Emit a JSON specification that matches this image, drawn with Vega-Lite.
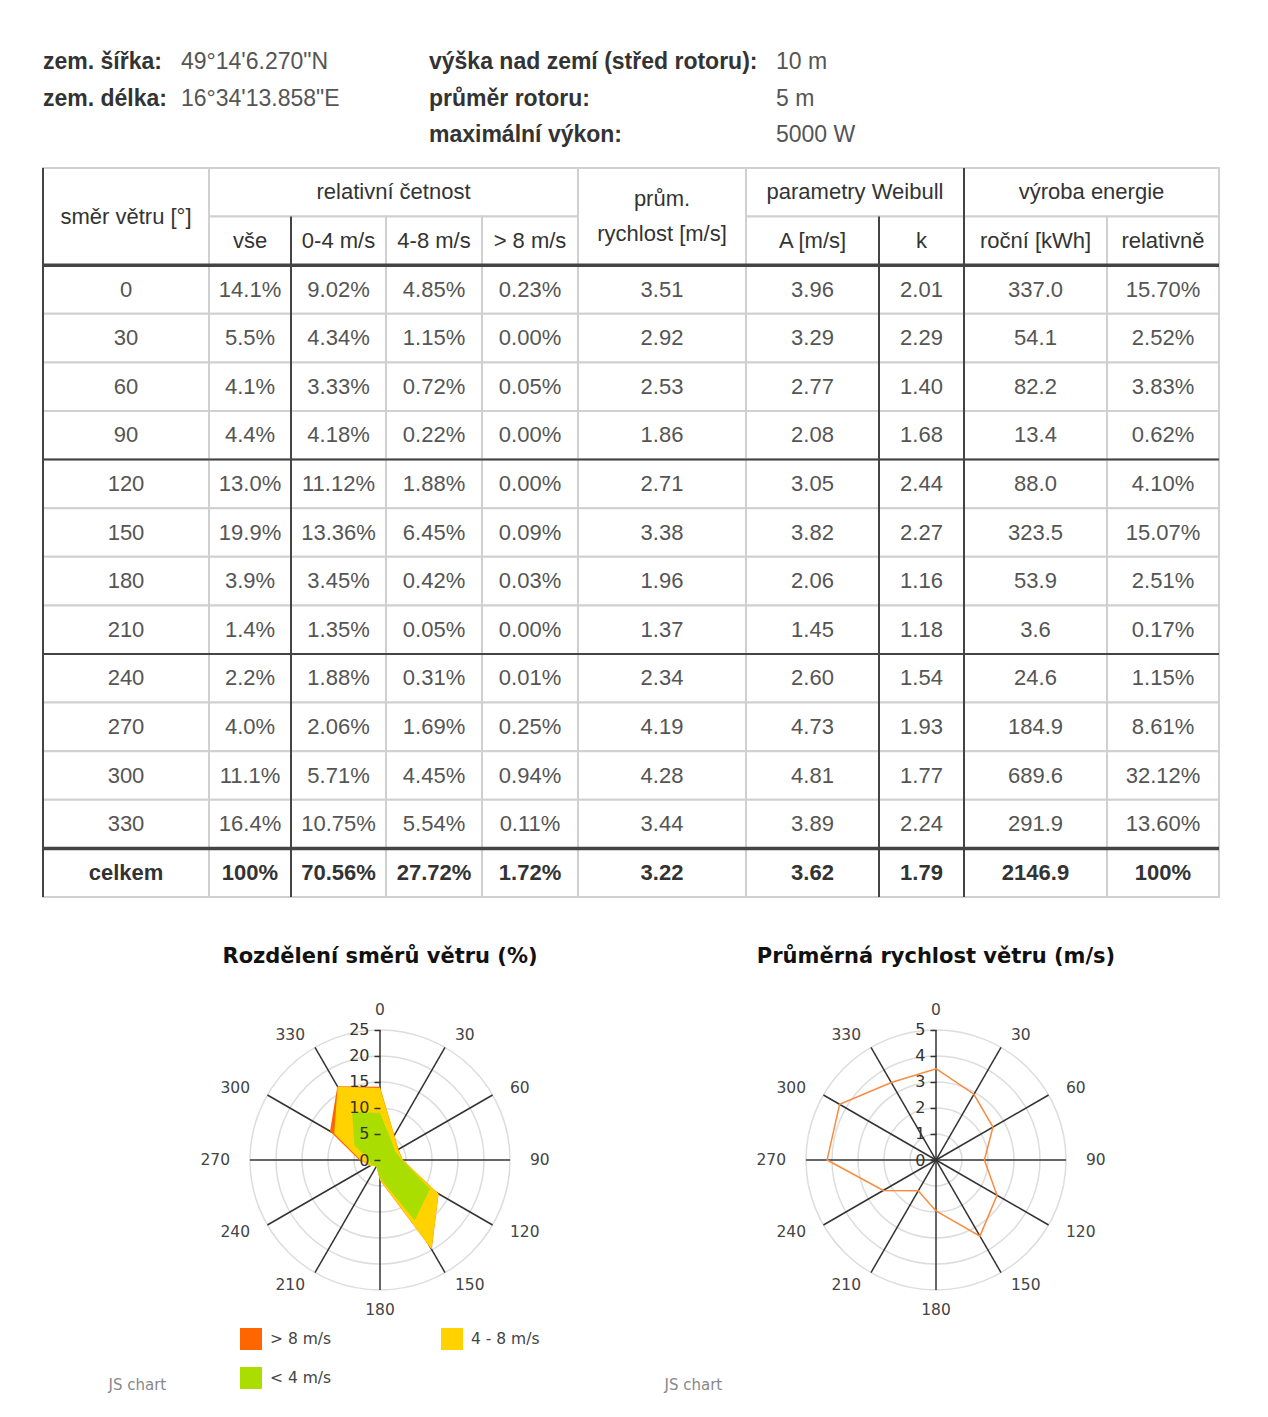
{
"$schema": "https://vega.github.io/schema/vega-lite/v6.json",
"background": "white",
"padding": {"left": 41, "top": 40, "right": 5, "bottom": 5},
"config": {"view": {"stroke": null}, "font": "Liberation Sans"},
"datasets": {
"info": [
{"row":0,"col":0,"kind":"l","t":"zem. šířka:"},
{"row":0,"col":1,"kind":"v","t":"49°14'6.270\"N"},
{"row":1,"col":0,"kind":"l","t":"zem. délka:"},
{"row":1,"col":1,"kind":"v","t":"16°34'13.858\"E"},
{"row":0,"col":2,"kind":"l","t":"výška nad zemí (střed rotoru):"},
{"row":0,"col":3,"kind":"v","t":"10 m"},
{"row":1,"col":2,"kind":"l","t":"průměr rotoru:"},
{"row":1,"col":3,"kind":"v","t":"5 m"},
{"row":2,"col":2,"kind":"l","t":"maximální výkon:"},
{"row":2,"col":3,"kind":"v","t":"5000 W"}
],
"rows": [
{"r":2,"dir":"0","vse":"14.1%","s04":"9.02%","s48":"4.85%","s8":"0.23%","avg":"3.51","wa":"3.96","wk":"2.01","roc":"337.0","rel":"15.70%"},
{"r":3,"dir":"30","vse":"5.5%","s04":"4.34%","s48":"1.15%","s8":"0.00%","avg":"2.92","wa":"3.29","wk":"2.29","roc":"54.1","rel":"2.52%"},
{"r":4,"dir":"60","vse":"4.1%","s04":"3.33%","s48":"0.72%","s8":"0.05%","avg":"2.53","wa":"2.77","wk":"1.40","roc":"82.2","rel":"3.83%"},
{"r":5,"dir":"90","vse":"4.4%","s04":"4.18%","s48":"0.22%","s8":"0.00%","avg":"1.86","wa":"2.08","wk":"1.68","roc":"13.4","rel":"0.62%"},
{"r":6,"dir":"120","vse":"13.0%","s04":"11.12%","s48":"1.88%","s8":"0.00%","avg":"2.71","wa":"3.05","wk":"2.44","roc":"88.0","rel":"4.10%"},
{"r":7,"dir":"150","vse":"19.9%","s04":"13.36%","s48":"6.45%","s8":"0.09%","avg":"3.38","wa":"3.82","wk":"2.27","roc":"323.5","rel":"15.07%"},
{"r":8,"dir":"180","vse":"3.9%","s04":"3.45%","s48":"0.42%","s8":"0.03%","avg":"1.96","wa":"2.06","wk":"1.16","roc":"53.9","rel":"2.51%"},
{"r":9,"dir":"210","vse":"1.4%","s04":"1.35%","s48":"0.05%","s8":"0.00%","avg":"1.37","wa":"1.45","wk":"1.18","roc":"3.6","rel":"0.17%"},
{"r":10,"dir":"240","vse":"2.2%","s04":"1.88%","s48":"0.31%","s8":"0.01%","avg":"2.34","wa":"2.60","wk":"1.54","roc":"24.6","rel":"1.15%"},
{"r":11,"dir":"270","vse":"4.0%","s04":"2.06%","s48":"1.69%","s8":"0.25%","avg":"4.19","wa":"4.73","wk":"1.93","roc":"184.9","rel":"8.61%"},
{"r":12,"dir":"300","vse":"11.1%","s04":"5.71%","s48":"4.45%","s8":"0.94%","avg":"4.28","wa":"4.81","wk":"1.77","roc":"689.6","rel":"32.12%"},
{"r":13,"dir":"330","vse":"16.4%","s04":"10.75%","s48":"5.54%","s8":"0.11%","avg":"3.44","wa":"3.89","wk":"2.24","roc":"291.9","rel":"13.60%"},
{"r":14,"dir":"celkem","vse":"100%","s04":"70.56%","s48":"27.72%","s8":"1.72%","avg":"3.22","wa":"3.62","wk":"1.79","roc":"2146.9","rel":"100%"}
],
"heads": [
{"gi":0,"c0":0,"c1":1,"r0":0,"r1":2,"t":"směr větru [°]"},
{"gi":1,"c0":1,"c1":5,"r0":0,"r1":1,"t":"relativní četnost"},
{"gi":1,"c0":1,"c1":2,"r0":1,"r1":2,"t":"vše"},
{"gi":1,"c0":2,"c1":3,"r0":1,"r1":2,"t":"0-4 m/s"},
{"gi":1,"c0":3,"c1":4,"r0":1,"r1":2,"t":"4-8 m/s"},
{"gi":1,"c0":4,"c1":5,"r0":1,"r1":2,"t":"> 8 m/s"},
{"gi":2,"c0":5,"c1":6,"r0":0,"r1":2,"t":"prům.\nrychlost [m/s]"},
{"gi":3,"c0":6,"c1":8,"r0":0,"r1":1,"t":"parametry Weibull"},
{"gi":3,"c0":6,"c1":7,"r0":1,"r1":2,"t":"A [m/s]"},
{"gi":3,"c0":7,"c1":8,"r0":1,"r1":2,"t":"k"},
{"gi":4,"c0":8,"c1":10,"r0":0,"r1":1,"t":"výroba energie"},
{"gi":4,"c0":8,"c1":9,"r0":1,"r1":2,"t":"roční [kWh]"},
{"gi":4,"c0":9,"c1":10,"r0":1,"r1":2,"t":"relativně"}
],
"vlines": [
{"c":0,"r0":0},
{"c":2,"r0":1},
{"c":7,"r0":1},
{"c":8,"r0":0}
],
"hlines": [
{"b":2,"sep":"double"},
{"b":6,"sep":"single"},
{"b":10,"sep":"single"},
{"b":14,"sep":"double"}
],
"rings1": [{"v":5},{"v":10},{"v":15},{"v":20},{"v":25}],
"rings2": [{"v":1},{"v":2},{"v":3},{"v":4},{"v":5}]
},
"bounds": "flush",
"spacing": 103,
"vconcat": [
{"width": 1176, "height": 25,
 "layer": [
 {"data": {"name": "info"}, "transform": [{"filter": "datum.kind==='l'"}],
  "mark": {"type": "text", "align": "left", "fontSize": 23, "fontWeight": "bold", "color": "#333"},
  "encoding": {"x": {"field": "col", "type": "quantitative", "axis": null, "scale": {"domain": [0,1,2,3], "range": [0,138,386,733], "nice": false, "zero": false}},
   "y": {"field": "row", "type": "quantitative", "axis": null, "scale": {"domain": [0,2], "range": [22,95], "nice": false, "zero": false}},
   "text": {"field": "t"}}},
 {"data": {"name": "info"}, "transform": [{"filter": "datum.kind==='v'"}],
  "mark": {"type": "text", "align": "left", "fontSize": 23, "color": "#555"},
  "encoding": {"x": {"field": "col", "type": "quantitative", "axis": null},
   "y": {"field": "row", "type": "quantitative", "axis": null},
   "text": {"field": "t"}}}
 ]},
{"width": 1176, "height": 729,
 "resolve": {"scale": {"x": "independent"}},
 "layer": [
 {"layer": [
  {"data": {"name": "heads"}, "mark": {"type": "rect", "fill": "#ffffff", "stroke": "#d0d0d0", "strokeWidth": 2},
   "encoding": {"x": {"field": "c0", "type": "quantitative", "axis": null, "scale": {"domain": [0,1,2,3,4,5,6,7,8,9,10], "range": [0,166,248,343,439,535,703,836,921,1064,1176], "nice": false, "zero": false}}, "x2": {"field": "c1"},
    "y": {"field": "r0", "type": "quantitative", "axis": null, "scale": {"domain": [0,15], "range": [0,729], "nice": false, "zero": false}}, "y2": {"field": "r1"}}},
  {"data": {"name": "rows"}, "transform": [{"fold": ["dir","vse","s04","s48","s8","avg","wa","wk","roc","rel"]}, {"calculate": "indexof(['dir','vse','s04','s48','s8','avg','wa','wk','roc','rel'],datum.key)", "as": "c0"}, {"calculate": "datum.c0+1", "as": "c1"}, {"calculate": "datum.r+1", "as": "r1"}],
   "mark": {"type": "rect", "fill": "#ffffff", "stroke": "#d0d0d0", "strokeWidth": 2},
   "encoding": {"x": {"field": "c0", "type": "quantitative", "axis": null}, "x2": {"field": "c1"}, "y": {"field": "r", "type": "quantitative", "axis": null}, "y2": {"field": "r1"}}},
  {"data": {"name": "hlines"}, "mark": {"type": "rule", "stroke": "#444"},
   "encoding": {"y": {"field": "b", "type": "quantitative", "axis": null}, "strokeWidth": {"field": "sep", "type": "nominal", "scale": {"domain": ["double","single"], "range": [3.5,2]}, "legend": null}}},
  {"data": {"name": "vlines"}, "mark": {"type": "rule", "stroke": "#444", "strokeWidth": 2},
   "encoding": {"x": {"field": "c", "type": "quantitative", "axis": null}, "y": {"field": "r0", "type": "quantitative", "axis": null}, "y2": {"datum": 15}}},
  {"data": {"name": "heads"}, "transform": [{"filter": "datum.c1-datum.c0==1 && indexof(datum.t,'\\n')<0"}, {"calculate": "(datum.c0+datum.c1)/2", "as": "xm"}, {"calculate": "(datum.r0+datum.r1)/2", "as": "ym"}],
   "mark": {"type": "text", "fontSize": 22, "color": "#333"},
   "encoding": {"x": {"field": "xm", "type": "quantitative", "axis": null}, "y": {"field": "ym", "type": "quantitative", "axis": null}, "text": {"field": "t"}}},
  {"data": {"name": "heads"}, "transform": [{"filter": "indexof(datum.t,'\\n')>=0"}, {"calculate": "(datum.c0+datum.c1)/2", "as": "xm"}, {"calculate": "(datum.r0+datum.r1)/2", "as": "ym"}],
   "mark": {"type": "text", "fontSize": 22, "color": "#333", "lineBreak": "\n", "lineHeight": 35, "dy": -17.5},
   "encoding": {"x": {"field": "xm", "type": "quantitative", "axis": null}, "y": {"field": "ym", "type": "quantitative", "axis": null}, "text": {"field": "t"}}},
  {"data": {"name": "rows"}, "transform": [{"filter": "datum.r<14"}, {"fold": ["dir","vse","s04","s48","s8","avg","wa","wk","roc","rel"]}, {"calculate": "indexof(['dir','vse','s04','s48','s8','avg','wa','wk','roc','rel'],datum.key)+0.5", "as": "xm"}, {"calculate": "datum.r+0.5", "as": "ym"}],
   "mark": {"type": "text", "fontSize": 22, "color": "#555"},
   "encoding": {"x": {"field": "xm", "type": "quantitative", "axis": null}, "y": {"field": "ym", "type": "quantitative", "axis": null}, "text": {"field": "value"}}},
  {"data": {"name": "rows"}, "transform": [{"filter": "datum.r==14"}, {"fold": ["dir","vse","s04","s48","s8","avg","wa","wk","roc","rel"]}, {"calculate": "indexof(['dir','vse','s04','s48','s8','avg','wa','wk','roc','rel'],datum.key)+0.5", "as": "xm"}, {"calculate": "datum.r+0.5", "as": "ym"}],
   "mark": {"type": "text", "fontSize": 22, "fontWeight": "bold", "color": "#333"},
   "encoding": {"x": {"field": "xm", "type": "quantitative", "axis": null}, "y": {"field": "ym", "type": "quantitative", "axis": null}, "text": {"field": "value"}}}
 ]},
 {"data": {"name": "heads"}, "transform": [{"filter": "datum.c1-datum.c0>1"}, {"calculate": "datum.gi+0.5", "as": "gx"}, {"calculate": "(datum.r0+datum.r1)/2", "as": "ym"}],
  "mark": {"type": "text", "fontSize": 22, "color": "#333"},
  "encoding": {"x": {"field": "gx", "type": "quantitative", "axis": null, "scale": {"domain": [0,1,2,3,4,5], "range": [0,166,535,703,921,1176], "nice": false, "zero": false}},
   "y": {"field": "ym", "type": "quantitative", "axis": null}, "text": {"field": "t"}}}
 ]},
{"bounds": "flush", "spacing": 0,
 "resolve": {"scale": {"size": "independent"}},
 "hconcat": [
{"width": 59, "height": 320, "data": {"values": []}, "mark": "point", "encoding": {}},
{"width": 556, "height": 320,
 "title": {"text": "Rozdělení směrů větru (%)", "font": "DejaVu Sans", "fontSize": 21, "fontWeight": "bold", "color": "#111", "anchor": "middle", "frame": "group", "baseline": "middle", "offset": 22},
 "encoding": {
  "x": {"field": "px", "type": "quantitative", "scale": {"domain": [-53.4615, 53.4615], "nice": false, "zero": false},
   "axis": {"domain": false, "ticks": false, "labels": false, "grid": false, "title": "JS chart", "titleFont": "DejaVu Sans", "titleFontSize": 15, "titleFontWeight": "normal", "titleColor": "#888", "titleAnchor": "start", "titleAlign": "left", "titleBaseline": "middle", "titleX": 6, "titleY": 64}},
  "y": {"field": "py", "type": "quantitative", "scale": {"domain": [-30.769, 30.769], "nice": false, "zero": false},
   "axis": {"orient": "left", "offset": -278, "values": [0,5,10,15,20,25], "domain": false, "grid": false, "tickSize": 6, "tickColor": "#333", "tickWidth": 1.5, "labelFont": "DejaVu Sans", "labelFontSize": 16, "labelColor": "#333", "labelPadding": 5, "title": null, "zindex": 1}}
 },
 "layer": [
  {"data": {"name": "rings1"}, "transform": [{"calculate": "0", "as": "px"}, {"calculate": "0", "as": "py"}],
   "mark": {"type": "point", "shape": "circle", "filled": false, "stroke": "#dddddd", "strokeWidth": 1.5, "opacity": 1},
   "encoding": {"size": {"field": "v", "type": "quantitative", "scale": {"type": "pow", "exponent": 2, "domain": [0,25], "range": [0,67600]}, "legend": null}}},
  {"data": {"name": "rows"}, "transform": [{"filter": "datum.r<14"}, {"calculate": "toNumber(datum.dir)*PI/180", "as": "th"}, {"calculate": "0", "as": "px"}, {"calculate": "0", "as": "py"}, {"calculate": "25*sin(datum.th)", "as": "sx"}, {"calculate": "25*cos(datum.th)", "as": "sy"}],
   "mark": {"type": "rule", "stroke": "#333", "strokeWidth": 1.5},
   "encoding": {"x2": {"field": "sx"}, "y2": {"field": "sy"}}},
  {"data": {"name": "rows"}, "transform": [{"filter": "datum.r<14"}, {"calculate": "toNumber(datum.dir)*PI/180", "as": "th"}, {"calculate": "parseFloat(datum.s04)+parseFloat(datum.s48)+parseFloat(datum.s8)", "as": "v"}, {"calculate": "datum.v*sin(datum.th)", "as": "px"}, {"calculate": "datum.v*cos(datum.th)", "as": "py"}, {"calculate": "'> 8 m/s'", "as": "cls"}],
   "mark": {"type": "line", "interpolate": "linear-closed", "filled": true, "opacity": 1},
   "encoding": {"order": {"field": "th", "type": "quantitative"},
    "color": {"field": "cls", "type": "nominal", "scale": {"domain": ["> 8 m/s","4 - 8 m/s","< 4 m/s"], "range": ["#ff6600","#ffd200","#aadd00"]},
     "legend": {"orient": "none", "legendX": 197, "legendY": 1288, "direction": "horizontal", "columns": 2, "symbolType": "square", "symbolSize": 484, "symbolStrokeWidth": 0, "labelFont": "DejaVu Sans", "labelFontSize": 15.5, "labelColor": "#444", "labelOffset": 8, "columnPadding": 109, "rowPadding": 17, "title": null, "padding": 0}}}},
  {"data": {"name": "rows"}, "transform": [{"filter": "datum.r<14"}, {"calculate": "toNumber(datum.dir)*PI/180", "as": "th"}, {"calculate": "parseFloat(datum.s04)+parseFloat(datum.s48)", "as": "v"}, {"calculate": "datum.v*sin(datum.th)", "as": "px"}, {"calculate": "datum.v*cos(datum.th)", "as": "py"}, {"calculate": "'4 - 8 m/s'", "as": "cls"}],
   "mark": {"type": "line", "interpolate": "linear-closed", "filled": true, "opacity": 1},
   "encoding": {"order": {"field": "th", "type": "quantitative"}, "color": {"field": "cls", "type": "nominal"}}},
  {"data": {"name": "rows"}, "transform": [{"filter": "datum.r<14"}, {"calculate": "toNumber(datum.dir)*PI/180", "as": "th"}, {"calculate": "parseFloat(datum.s04)", "as": "v"}, {"calculate": "datum.v*sin(datum.th)", "as": "px"}, {"calculate": "datum.v*cos(datum.th)", "as": "py"}, {"calculate": "'< 4 m/s'", "as": "cls"}],
   "mark": {"type": "line", "interpolate": "linear-closed", "filled": true, "opacity": 1},
   "encoding": {"order": {"field": "th", "type": "quantitative"}, "color": {"field": "cls", "type": "nominal"}}},
  {"data": {"name": "rows"}, "transform": [{"filter": "datum.r<14"}, {"calculate": "toNumber(datum.dir)*PI/180", "as": "th"}, {"filter": "sin(datum.th) > 0.01"}, {"calculate": "150/5.2*sin(datum.th)", "as": "px"}, {"calculate": "144/5.2*cos(datum.th)", "as": "py"}],
   "mark": {"type": "text", "align": "left", "font": "DejaVu Sans", "fontSize": 15.5, "color": "#444"},
   "encoding": {"text": {"field": "dir"}}},
  {"data": {"name": "rows"}, "transform": [{"filter": "datum.r<14"}, {"calculate": "toNumber(datum.dir)*PI/180", "as": "th"}, {"filter": "sin(datum.th) < -0.01"}, {"calculate": "150/5.2*sin(datum.th)", "as": "px"}, {"calculate": "144/5.2*cos(datum.th)", "as": "py"}],
   "mark": {"type": "text", "align": "right", "font": "DejaVu Sans", "fontSize": 15.5, "color": "#444"},
   "encoding": {"text": {"field": "dir"}}},
  {"data": {"name": "rows"}, "transform": [{"filter": "datum.r<14"}, {"calculate": "toNumber(datum.dir)*PI/180", "as": "th"}, {"filter": "abs(sin(datum.th)) <= 0.01"}, {"calculate": "150/5.2*sin(datum.th)", "as": "px"}, {"calculate": "150/5.2*cos(datum.th)", "as": "py"}],
   "mark": {"type": "text", "align": "center", "font": "DejaVu Sans", "fontSize": 15.5, "color": "#444"},
   "encoding": {"text": {"field": "dir"}}}
 ]},
{"width": 556, "height": 320,
 "title": {"text": "Průměrná rychlost větru (m/s)", "font": "DejaVu Sans", "fontSize": 21, "fontWeight": "bold", "color": "#111", "anchor": "middle", "frame": "group", "baseline": "middle", "offset": 22},
 "encoding": {
  "x": {"field": "px", "type": "quantitative", "scale": {"domain": [-10.6923, 10.6923], "nice": false, "zero": false},
   "axis": {"domain": false, "ticks": false, "labels": false, "grid": false, "title": "JS chart", "titleFont": "DejaVu Sans", "titleFontSize": 15, "titleFontWeight": "normal", "titleColor": "#888", "titleAnchor": "start", "titleAlign": "left", "titleBaseline": "middle", "titleX": 6, "titleY": 64}},
  "y": {"field": "py", "type": "quantitative", "scale": {"domain": [-6.1538, 6.1538], "nice": false, "zero": false},
   "axis": {"orient": "left", "offset": -278, "values": [0,1,2,3,4,5], "domain": false, "grid": false, "tickSize": 6, "tickColor": "#333", "tickWidth": 1.5, "labelFont": "DejaVu Sans", "labelFontSize": 16, "labelColor": "#333", "labelPadding": 5, "title": null, "zindex": 1}}
 },
 "layer": [
  {"data": {"name": "rings2"}, "transform": [{"calculate": "0", "as": "px"}, {"calculate": "0", "as": "py"}],
   "mark": {"type": "point", "shape": "circle", "filled": false, "stroke": "#dddddd", "strokeWidth": 1.5, "opacity": 1},
   "encoding": {"size": {"field": "v", "type": "quantitative", "scale": {"type": "pow", "exponent": 2, "domain": [0,5], "range": [0,67600]}, "legend": null}}},
  {"data": {"name": "rows"}, "transform": [{"filter": "datum.r<14"}, {"calculate": "toNumber(datum.dir)*PI/180", "as": "th"}, {"calculate": "0", "as": "px"}, {"calculate": "0", "as": "py"}, {"calculate": "5*sin(datum.th)", "as": "sx"}, {"calculate": "5*cos(datum.th)", "as": "sy"}],
   "mark": {"type": "rule", "stroke": "#333", "strokeWidth": 1.5},
   "encoding": {"x2": {"field": "sx"}, "y2": {"field": "sy"}}},
  {"data": {"name": "rows"}, "transform": [{"filter": "datum.r<14"}, {"calculate": "toNumber(datum.dir)*PI/180", "as": "th"}, {"calculate": "parseFloat(datum.avg)", "as": "v"}, {"calculate": "datum.v*sin(datum.th)", "as": "px"}, {"calculate": "datum.v*cos(datum.th)", "as": "py"}],
   "mark": {"type": "line", "interpolate": "linear-closed", "color": "#f98b3e", "strokeWidth": 1.5},
   "encoding": {"order": {"field": "th", "type": "quantitative"}}},
  {"data": {"name": "rows"}, "transform": [{"filter": "datum.r<14"}, {"calculate": "toNumber(datum.dir)*PI/180", "as": "th"}, {"filter": "sin(datum.th) > 0.01"}, {"calculate": "150/26*sin(datum.th)", "as": "px"}, {"calculate": "144/26*cos(datum.th)", "as": "py"}],
   "mark": {"type": "text", "align": "left", "font": "DejaVu Sans", "fontSize": 15.5, "color": "#444"},
   "encoding": {"text": {"field": "dir"}}},
  {"data": {"name": "rows"}, "transform": [{"filter": "datum.r<14"}, {"calculate": "toNumber(datum.dir)*PI/180", "as": "th"}, {"filter": "sin(datum.th) < -0.01"}, {"calculate": "150/26*sin(datum.th)", "as": "px"}, {"calculate": "144/26*cos(datum.th)", "as": "py"}],
   "mark": {"type": "text", "align": "right", "font": "DejaVu Sans", "fontSize": 15.5, "color": "#444"},
   "encoding": {"text": {"field": "dir"}}},
  {"data": {"name": "rows"}, "transform": [{"filter": "datum.r<14"}, {"calculate": "toNumber(datum.dir)*PI/180", "as": "th"}, {"filter": "abs(sin(datum.th)) <= 0.01"}, {"calculate": "150/26*sin(datum.th)", "as": "px"}, {"calculate": "150/26*cos(datum.th)", "as": "py"}],
   "mark": {"type": "text", "align": "center", "font": "DejaVu Sans", "fontSize": 15.5, "color": "#444"},
   "encoding": {"text": {"field": "dir"}}}
 ]}
]}
]
}
